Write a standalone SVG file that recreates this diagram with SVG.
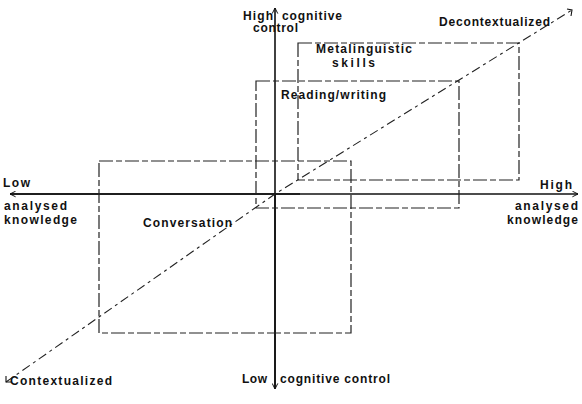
<svg xmlns="http://www.w3.org/2000/svg" width="582" height="404" viewBox="0 0 582 404">
<style>
text{font-family:"Liberation Sans",Arial,sans-serif;font-size:12px;font-weight:bold;fill:#111}
.box{fill:none;stroke:#222;stroke-width:1.2;stroke-dasharray:14 3 6 3}
.axis{fill:none;stroke:#111;stroke-width:1.6}
.diag{fill:none;stroke:#222;stroke-width:1.1;stroke-dasharray:9 4 3 4}
</style>
<defs>
<marker id="arr" viewBox="0 0 10 10" refX="9" refY="5" markerWidth="7" markerHeight="7" markerUnits="userSpaceOnUse" orient="auto">
<path d="M1,1 L9,5 L1,9" fill="none" stroke="#111" stroke-width="1.4"/>
</marker>
</defs>
<rect width="582" height="404" fill="#fff"/>
<g id="connectors">
<line class="axis" x1="275" y1="388" x2="275" y2="8" marker-end="url(#arr)"/>
<line class="axis" x1="275" y1="194" x2="275" y2="389" marker-end="url(#arr)"/>
<line class="axis" x1="10" y1="194" x2="578" y2="194" marker-end="url(#arr)"/>
<line class="axis" x1="300" y1="194" x2="10" y2="194" marker-end="url(#arr)"/>
<polyline class="diag" points="6,382 275,194 572,10"/>
<path d="M567,9 L572,10 L571,16" fill="none" stroke="#111" stroke-width="1.1"/>
<path d="M6,376 L6,382 L12,382" fill="none" stroke="#111" stroke-width="1.1"/>
</g>
<g id="metalinguistic">
<rect class="box" x="298" y="43" width="221" height="137"/>
<text x="316" y="53" textLength="96" lengthAdjust="spacing">Metalinguistic</text>
<text x="332" y="67" textLength="43" lengthAdjust="spacing">skills</text>
</g>
<g id="reading">
<rect class="box" x="256" y="81" width="203" height="127"/>
<text x="281" y="99" textLength="105" lengthAdjust="spacing">Reading/writing</text>
</g>
<g id="conversation">
<rect class="box" x="99" y="161" width="252" height="172"/>
<text x="143" y="227" textLength="89" lengthAdjust="spacing">Conversation</text>
</g>
<g id="labels">
<text x="243" y="20" textLength="30" lengthAdjust="spacing">High</text>
<text x="282" y="20" textLength="60" lengthAdjust="spacing">cognitive</text>
<text x="253" y="32" textLength="45" lengthAdjust="spacing">control</text>
<text x="439" y="26" textLength="111" lengthAdjust="spacing">Decontextualized</text>
<text x="3" y="187" textLength="27" lengthAdjust="spacing">Low</text>
<text x="4" y="210" textLength="63" lengthAdjust="spacing">analysed</text>
<text x="4" y="224" textLength="73" lengthAdjust="spacing">knowledge</text>
<text x="540" y="189" textLength="32" lengthAdjust="spacing">High</text>
<text x="515" y="210" textLength="63" lengthAdjust="spacing">analysed</text>
<text x="507" y="224" textLength="71" lengthAdjust="spacing">knowledge</text>
<text x="10" y="385" textLength="102" lengthAdjust="spacing">Contextualized</text>
<text x="242" y="383" textLength="25" lengthAdjust="spacing">Low</text>
<text x="280" y="383" textLength="110" lengthAdjust="spacing">cognitive control</text>
</g>
</svg>
